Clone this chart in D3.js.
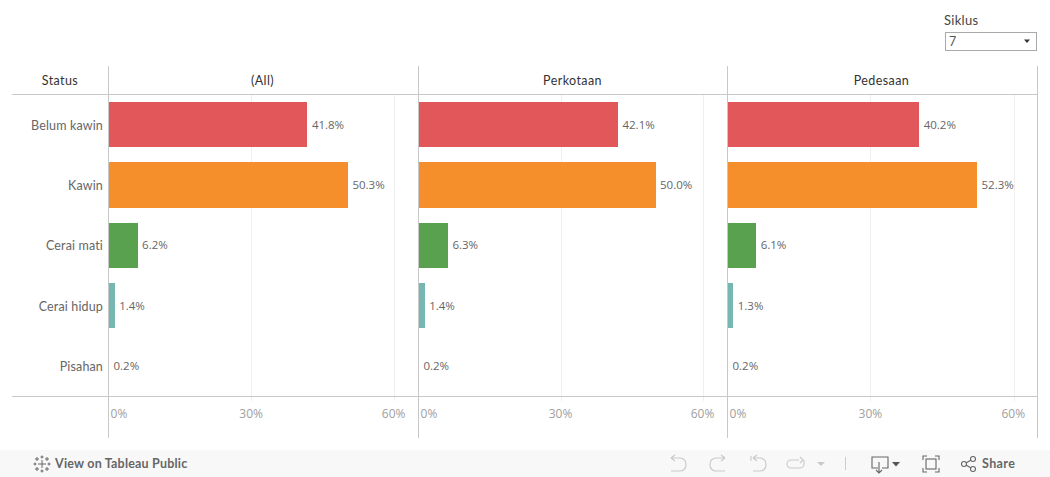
<!DOCTYPE html>
<html><head><meta charset="utf-8">
<script src="https://cdn.jsdelivr.net/npm/d3@7"></script>
<style>html,body{margin:0;padding:0;background:#fff;overflow:hidden}svg{display:block}text{font-family:Lato,sans-serif}</style>
</head><body><svg id="c" width="1050" height="477"></svg>
<script>
const statuses = ["Belum kawin","Kawin","Cerai mati","Cerai hidup","Pisahan"];
const panels = ["(All)","Perkotaan","Pedesaan"];
const valuesAll = [41.8,50.3,6.2,1.4,0.2];
const valuesKota = [42.1,50.0,6.3,1.4,0.2];
const valuesDesa = [40.2,52.3,6.1,1.3,0.2];
const colors = ["#e2575a","#f58f2c","#59a14f","#76b7b2","#9c755f"];
const ticks = [0,30,60];
const panelValues = [valuesAll,valuesKota,valuesDesa];

const svg = d3.select("#c");
const LINE="#c8c8c8", GRID="#efefef";
const panelLine = d3.scaleOrdinal().domain(panels).range([108.5,418.5,727.5]);
const panelX = d3.scaleOrdinal().domain(panels).range([108,418,727]);
const panelW = d3.scaleOrdinal().domain(panels).range([286.2,285,286.8]);
const y = d3.scaleBand().domain(statuses).range([94.5,396]).paddingInner(0.25).paddingOuter(0.125);

// gridlines
panels.forEach(p=>{
  const x = d3.scaleLinear().domain([0,60]).range([panelX(p),panelX(p)+panelW(p)]);
  svg.append("g").selectAll("line").data(ticks.slice(1)).join("line")
    .attr("x1",d=>Math.round(x(d))+.5).attr("x2",d=>Math.round(x(d))+.5).attr("y1",95).attr("y2",401)
    .attr("stroke",GRID);
});

// bars
panels.forEach((p,pi)=>{
  const x = d3.scaleLinear().domain([0,60]).range([0,panelW(p)]);
  const g = svg.append("g").attr("transform",`translate(${panelX(p)},0)`);
  const vals = panelValues[pi];
  g.selectAll("rect").data(statuses).join("rect")
    .attr("x",0).attr("y",d=>y(d)).attr("height",y.bandwidth())
    .attr("width",(d,i)=>x(vals[i])).attr("fill",(d,i)=>colors[i]).attr("shape-rendering","crispEdges");
  g.selectAll("text").data(statuses).join("text")
    .attr("x",(d,i)=>x(vals[i])+4.5).attr("y",d=>y(d)+y.bandwidth()/2+4)
    .attr("font-size",11.5).attr("fill","#666").style("font-family",'"Open Sans",sans-serif')
    .text((d,i)=>vals[i].toFixed(1)+"%");
  const a = svg.append("g").attr("transform",`translate(${panelX(p)},397)`)
    .call(d3.axisBottom(x).tickValues(ticks).tickFormat(d=>d+"%").tickSize(0));
  a.select(".domain").remove();
  a.selectAll("text").attr("font-size",12).attr("fill","#a0a0a0").attr("dy",0).attr("y",21)
    .style("font-family",'"Open Sans",sans-serif')
    .attr("text-anchor","middle").attr("dx",d=>d===0?10.5:(d===30?-0.5:-1));
});

// frame rules
[[12,1038,94.5,94.5],[12,1038,396.5,396.5]].forEach(l=>svg.append("line").attr("x1",l[0]).attr("x2",l[1]).attr("y1",l[2]).attr("y2",l[3]).attr("stroke",LINE));
panels.forEach(p=>svg.append("line").attr("x1",panelLine(p)).attr("x2",panelLine(p)).attr("y1",66).attr("y2",438).attr("stroke",LINE));
svg.append("line").attr("x1",1037.5).attr("x2",1037.5).attr("y1",66).attr("y2",438).attr("stroke",LINE);

// headers
svg.append("text").attr("x",60).attr("y",85).attr("text-anchor","middle").attr("font-size",12.5).attr("letter-spacing",0.4).attr("fill","#333").text("Status");
const hdrX=[262.5,572.5,881.5];
panels.forEach((p,i)=>svg.append("text").attr("x",hdrX[i]).attr("y",85).attr("text-anchor","middle").attr("font-size",12.5).attr("letter-spacing",0.4).attr("fill","#333").text(p));

// row labels
svg.selectAll("text.row").data(statuses).join("text").attr("class","row")
  .attr("x",103).attr("y",d=>y(d)+y.bandwidth()/2+5).attr("text-anchor","end")
  .attr("font-size",12.5).attr("letter-spacing",0.15).attr("fill","#666").text(d=>d);

// filter
svg.append("text").attr("x",944).attr("y",25).attr("font-size",13).attr("letter-spacing",0.3).attr("fill","#444").text("Siklus");
svg.append("rect").attr("x",945.5).attr("y",32.5).attr("width",91).attr("height",18).attr("fill","#fff").attr("stroke","#aaa");
svg.append("text").attr("x",949).attr("y",46).attr("font-size",12.5).attr("fill","#555").text("7");
svg.append("path").attr("d","M1024 39.5h6l-3 3.5z").attr("fill","#333");

// toolbar
svg.append("rect").attr("x",0).attr("y",450).attr("width",1050).attr("height",27).attr("fill","#f8f8f8");
svg.append("text").attr("x",55).attr("y",468).attr("font-size",12.5).attr("font-weight",700).attr("letter-spacing",0.2).attr("fill","#666").text("View on Tableau Public");
svg.append("text").attr("x",982).attr("y",468).attr("font-size",12.5).attr("font-weight",700).attr("letter-spacing",0.4).attr("fill","#666").text("Share");
// tableau icon
const ic=svg.append("g").attr("stroke","#666").attr("stroke-width",1).attr("fill","none");
[[42,464,4],[37,459,2],[47,459,2],[37,469,2],[47,469,2],[42,457,1.5],[42,471,1.5],[35,464,1.5],[49,464,1.5]].forEach(([cx,cy,r])=>{
  ic.append("path").attr("d",`M${cx-r} ${cy}h${2*r}M${cx} ${cy-r}v${2*r}`);
});
// toolbar glyphs
const tb=svg.append("g").attr("fill","none").attr("stroke","#c9c9c9").attr("stroke-width",1.1);
tb.append("path").attr("d","M671 458h9a6 6 0 0 1 6 6v1a6 6 0 0 1-6 6h-9M671 458l4-3M671 458l4 3");
tb.append("path").attr("d","M725 458h-9a6 6 0 0 0-6 6v1a6 6 0 0 0 6 6h9M725 458l-4-3M725 458l-4 3");
tb.append("path").attr("d","M751 456v5M753 458h7a6 6 0 0 1 6 6v1a6 6 0 0 1-6 6h-7M753 458l4-3M753 458l4 3");
tb.append("path").attr("d","M799 460h-8a4 4 0 0 0 0 8h9a4 4 0 0 0 4-4v-4M800 457l3 3-3 3");
svg.append("path").attr("d","M817 462h8l-4 4z").attr("fill","#c9c9c9");
svg.append("line").attr("x1",845.5).attr("x2",845.5).attr("y1",457).attr("y2",470).attr("stroke","#ccc");
const tk=svg.append("g").attr("fill","none").attr("stroke","#666").attr("stroke-width",1.1);
tk.append("path").attr("d","M878 468h-6v-11h16v11h-6M879 462v10M876 470l3 3 3-3");
svg.append("path").attr("d","M892 462h8l-4 4.5z").attr("fill","#555");
tk.append("path").attr("d","M923 460v-4h4M935 456h4v4M939 468v4h-4M927 472h-4v-4");
tk.append("rect").attr("x",926).attr("y",459).attr("width",10).attr("height",10);
tk.append("circle").attr("cx",964).attr("cy",464).attr("r",2.5);
tk.append("circle").attr("cx",973).attr("cy",459).attr("r",2.5);
tk.append("circle").attr("cx",973).attr("cy",469).attr("r",2.5);
tk.append("path").attr("d","M966 463l5-3M966 465l5 3");
</script></body></html>
